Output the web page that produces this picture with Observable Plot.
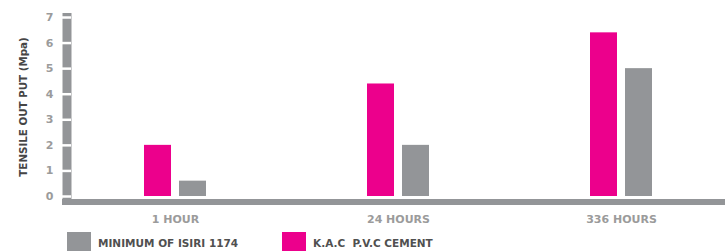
<!DOCTYPE html>
<html><head><meta charset="utf-8">
<script src="https://cdn.jsdelivr.net/npm/d3@7"></script>
<script src="https://cdn.jsdelivr.net/npm/@observablehq/plot@0.6"></script>
<style>
body{margin:0;background:#fff;font-family:"DejaVu Sans",sans-serif;}
#chart svg{display:block;}
#legend{display:flex;align-items:center;margin-top:4px;padding-left:67px;font-weight:bold;font-size:10.5px;color:#505050;}
.item{display:flex;align-items:center;}
.item.first{width:215px;}
.sw{width:24px;height:22px;margin-right:7px;flex:none;}
</style></head><body><div id="chart"></div><div id="legend"></div>
<script>
const categories = ["1 HOUR", "24 HOURS", "336 HOURS"];
const kacName = "K.A.C  P.V.C CEMENT";
const isiriName = "MINIMUM OF ISIRI 1174";
const kacValues = [2.0, 4.4, 6.4];
const isiriValues = [0.6, 2.0, 5.0];
const yTicks = [0, 1, 2, 3, 4, 5, 6, 7];
const yLabel = "TENSILE OUT PUT (Mpa)";
const legendOrder = [isiriName, kacName];

const PINK = "#ec008c", GRAY = "#939598";
const colorOf = {[kacName]: PINK, [isiriName]: GRAY};

const kacRows = categories.map((c, i) => ({category: c, series: kacName, value: kacValues[i]}));
const isiriRows = categories.map((c, i) => ({category: c, series: isiriName, value: isiriValues[i]}));

const chart = Plot.plot({
  width: 725,
  height: 228,
  marginLeft: 71,
  marginRight: 0,
  marginTop: 17,
  marginBottom: 32,
  style: {fontFamily: "DejaVu Sans", fontWeight: "bold", fontSize: "11px", background: "#fff"},
  x: {domain: categories, paddingInner: 0.722, paddingOuter: 0.3257},
  y: {domain: [0, 7], nice: false},
  marks: [
    Plot.barY(kacRows, {x: "category", y: "value", fill: PINK, insetRight: 35}),
    Plot.barY(isiriRows, {x: "category", y: "value", fill: GRAY, insetLeft: 35}),
    Plot.frame({anchor: "left", stroke: GRAY, strokeWidth: 9, dx: -4.5}),
    Plot.axisY({ticks: yTicks, tickSize: 9, stroke: "white", strokeWidth: 2.5, tickFormat: () => "", label: null}),
    Plot.ruleY([0], {stroke: GRAY, strokeWidth: 6, dy: 5.5, insetLeft: -9}),
    Plot.axisY({ticks: yTicks, tickSize: 0, tickPadding: 18, tickFormat: d3.format("d"), color: "#9b9b9b", label: null}),
    Plot.axisY({ticks: [], tickSize: 0, label: yLabel, labelAnchor: "center", labelArrow: "none", labelOffset: 52, color: "#454545", fontSize: 10.3}),
    Plot.axisX({tickSize: 0, tickPadding: 19, color: "#9b9b9b", label: null})
  ]
});
document.getElementById("chart").appendChild(chart);

const legend = document.getElementById("legend");
legendOrder.forEach((name, i) => {
  const item = document.createElement("div");
  item.className = "item" + (i === 0 ? " first" : "");
  const sw = document.createElement("span");
  sw.className = "sw";
  sw.style.background = colorOf[name];
  const t = document.createElement("span");
  t.textContent = name;
  t.style.whiteSpace = "pre";
  item.appendChild(sw);
  item.appendChild(t);
  legend.appendChild(item);
});
</script></body></html>
